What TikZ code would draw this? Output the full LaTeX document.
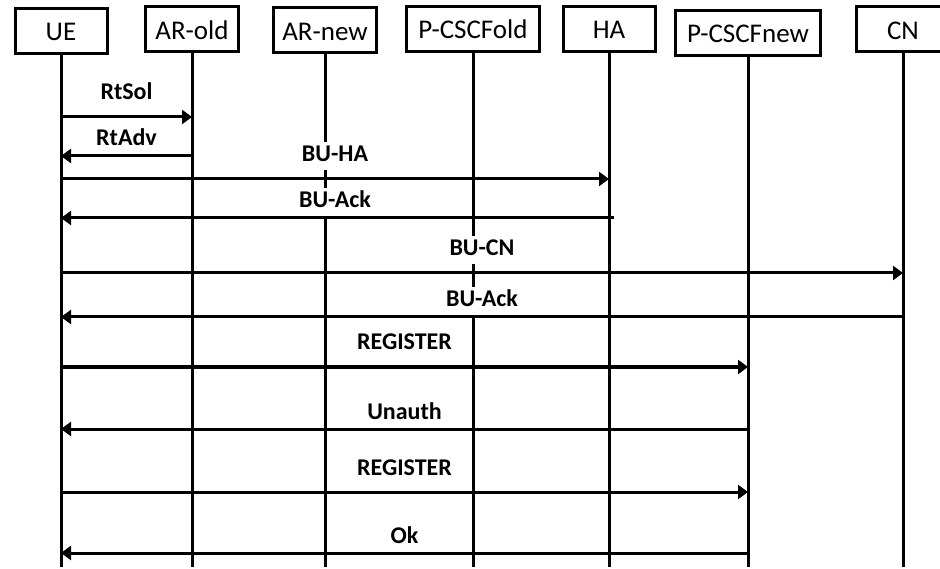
\documentclass[tikz,border=0pt]{standalone}
\usepackage{fontspec}
\setmainfont{Carlito}
\usetikzlibrary{arrows.meta}

\begin{document}
\begin{tikzpicture}[
    x=1pt, y=-1pt,
    entity/.style={draw, line width=3pt, inner sep=0pt, minimum height=45pt,
        text height=20pt, text depth=0pt, font=\fontsize{27}{32}\selectfont},
    lifeline/.style={line width=3pt},
    msg/.style={line width=3pt, -{Triangle[length=10pt,width=14pt]}},
    msglabel/.style={midway, anchor=base, fill=white, inner sep=2pt,
        text height=18pt, text depth=6pt, font=\bfseries\fontsize{24}{29}\selectfont}
]
    \useasboundingbox (0,0) rectangle (940,569);

    % Entities
    \node[entity, minimum width=92pt]  (ue)    at (61,31)    {UE};
    \node[entity, minimum width=93pt]  (arold) at (192,29.5) {AR-old};
    \node[entity, minimum width=103pt] (arnew) at (325,30.5) {AR-new};
    \node[entity, minimum width=133pt] (pold)  at (473,29)   {P-CSCFold};
    \node[entity, minimum width=92pt]  (ha)    at (609,29)   {HA};
    \node[entity, minimum width=145pt] (pnew)  at (748,33)   {P-CSCFnew};
    \node[entity, minimum width=93pt]  (cn)    at (903,29.5) {CN};

    % Lifelines
    \coordinate (bottom) at (0,567);
    \foreach \n in {ue,arold,arnew,pold,ha,pnew,cn}
        \draw[lifeline] (\n.south) -- (\n |- bottom);

    % Message rows
    \foreach \i/\y in {1/117,2/156,3/179,4/218,5/273,6/317,7/367,8/429,9/492,10/553}
        \coordinate (m\i) at (0,\y);

    % Messages
    \draw[msg] (ue |- m1) -- (arold |- m1) node[msglabel, yshift=17pt] {RtSol};
    \draw[msg] (arold |- m2) -- (ue |- m2) node[msglabel, yshift=10pt] {RtAdv};
    \draw[msg] (ue |- m3) -- (ha |- m3) node[msglabel, yshift=17pt] {BU-HA};
    \draw[msg, shorten <=-5pt] (ha |- m4) -- (ue |- m4) node[msglabel, yshift=10pt] {BU-Ack};
    \draw[msg] (ue |- m5) -- (cn |- m5) node[msglabel, yshift=17pt] {BU-CN};
    \draw[msg] (cn |- m6) -- (ue |- m6) node[msglabel, yshift=10pt] {BU-Ack};
    \draw[msg] (ue |- m7) -- (pnew |- m7) node[msglabel, yshift=17pt] {REGISTER};
    \draw[msg] (pnew |- m8) -- (ue |- m8) node[msglabel, yshift=10pt] {Unauth};
    \draw[msg] (ue |- m9) -- (pnew |- m9) node[msglabel, yshift=17pt] {REGISTER};
    \draw[msg] (pnew |- m10) -- (ue |- m10) node[msglabel, yshift=10pt] {Ok};
\end{tikzpicture}
\end{document}
